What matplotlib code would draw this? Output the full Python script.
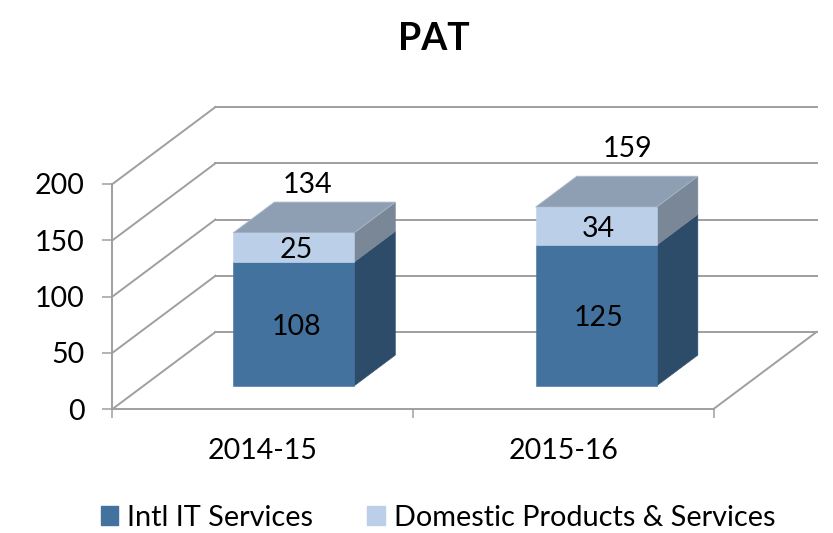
import matplotlib
matplotlib.use('Agg')
import matplotlib.pyplot as plt
from matplotlib.patches import Polygon, Patch

plt.rcParams['font.family'] = ['Lato', 'DejaVu Sans']

years = ['2014-15', '2015-16']
series_names = ['Intl IT Services', 'Domestic Products & Services']
intl_heights = [110, 125]
domestic_heights = [26, 34]
intl_labels = ['108', '125']
domestic_labels = ['25', '34']
total_labels = ['134', '159']
y_ticks = [0, 50, 100, 150, 200]

# styles
grid_col = '#9F9F9F'
intl_cols = ('#44729E', '#2C4C6A', '#8E9FB3')
domestic_cols = ('#BCCFE9', '#7A8797', '#8E9FB3')
text_col = '#000000'
num_size = 20.5

# 3d look: px sizes converted to data units
w, h = 833, 533
x0, y0 = 112.5, 409.0
px_x = 300.5
px_y = 1.125
dx = 103 / px_x
dy = 77 / px_y
bar_w = 121 / px_x
depth_start, depth_end = 0.3, 0.7
bar_nudge = [0, 2 / px_x]
total_offset = [(11, 50), (29, 61)]
label_drop = 2.5 / px_y
label_shift = 2.5 / px_x

fig = plt.figure(figsize=(w / 100, h / 100), dpi=100)
ax = fig.add_axes([0, 0, 1, 1])
ax.set_xlim(-x0 / px_x, (w - x0) / px_x)
ax.set_ylim((y0 - h) / px_y, y0 / px_y)

# wall and floor lines
for v in y_ticks:
    ax.plot([0, dx], [v, v + dy], color=grid_col, lw=1.4, zorder=1)
    ax.plot([dx, 2 + dx], [v + dy, v + dy], color=grid_col, lw=1.4, zorder=1)
ax.plot([2, 2 + dx], [0, dy], color=grid_col, lw=1.4, zorder=1)


def box(xl, xr, lo, hi, cols, z):
    ox1, oy1 = dx * depth_start, dy * depth_start
    ox2, oy2 = dx * depth_end, dy * depth_end
    front = [(xl + ox1, lo + oy1), (xr + ox1, lo + oy1), (xr + ox1, hi + oy1), (xl + ox1, hi + oy1)]
    side = [(xr + ox1, lo + oy1), (xr + ox2, lo + oy2), (xr + ox2, hi + oy2), (xr + ox1, hi + oy1)]
    top = [(xl + ox1, hi + oy1), (xr + ox1, hi + oy1), (xr + ox2, hi + oy2), (xl + ox2, hi + oy2)]
    ax.add_patch(Polygon(side, fc=cols[1], ec=cols[1], lw=0.4, zorder=z))
    ax.add_patch(Polygon(front, fc=cols[0], ec=cols[0], lw=0.4, zorder=z))
    return top


for i in range(len(years)):
    c = i + 0.5 + bar_nudge[i]
    xl, xr = c - bar_w / 2, c + bar_w / 2
    a = intl_heights[i]
    b = domestic_heights[i]
    box(xl, xr, 0, a, intl_cols, 3)
    top = box(xl, xr, a, a + b, domestic_cols, 3)
    ax.add_patch(Polygon(top, fc=domestic_cols[2], ec='#A9B8CC', lw=0.6, zorder=4))

    cx = c + dx * depth_start + label_shift
    base = dy * depth_start - label_drop
    ax.text(cx, base + a / 2, intl_labels[i], ha='center', va='center', fontsize=num_size, color=text_col, zorder=5)
    ax.text(cx, base + a + b / 2, domestic_labels[i], ha='center', va='center', fontsize=num_size, color=text_col, zorder=5)
    ox, oy = total_offset[i]
    ax.annotate(total_labels[i], (cx, base + a + b), xytext=(ox * 0.72, oy * 0.72), textcoords='offset points',
                ha='center', va='center', fontsize=num_size, color=text_col, zorder=5)

# axes
for s in ['top', 'right']:
    ax.spines[s].set_visible(False)
ax.spines['left'].set_position(('data', 0))
ax.spines['bottom'].set_position(('data', 0))
ax.spines['left'].set_bounds(0, 200)
ax.spines['bottom'].set_bounds(0, 2)
for s in ['left', 'bottom']:
    ax.spines[s].set_color(grid_col)
    ax.spines[s].set_linewidth(1.4)
    ax.spines[s].set_zorder(2)
ax.set_yticks(y_ticks)
ax.set_xticks([0, 1, 2])
ax.set_xticklabels([])
ax.set_xticks([0.5, 1.5], minor=True)
ax.set_xticklabels(years, minor=True, fontsize=num_size)
ax.tick_params(axis='y', length=7, width=1.1, color=grid_col, pad=13, labelsize=num_size)
ax.tick_params(axis='x', which='major', length=6.5, width=1.1, color=grid_col)
ax.tick_params(axis='x', which='minor', length=0, pad=21)

fig.text(0.5205, 1 - 39 / h, 'PAT', ha='center', va='center', fontsize=27, fontweight='bold', color=text_col)

handles = [Patch(fc=intl_cols[0], ec=intl_cols[0]), Patch(fc=domestic_cols[0], ec=domestic_cols[0])]
ax.legend(handles, series_names, ncol=2, loc='center', bbox_to_anchor=(438 / w, 1 - 518 / h),
          bbox_transform=fig.transFigure, frameon=False, fontsize=20.8, handlelength=0.62, handleheight=0.62,
          handletextpad=0.31, columnspacing=1.86, borderpad=0, borderaxespad=0)

fig.savefig('out.png', dpi=100)
